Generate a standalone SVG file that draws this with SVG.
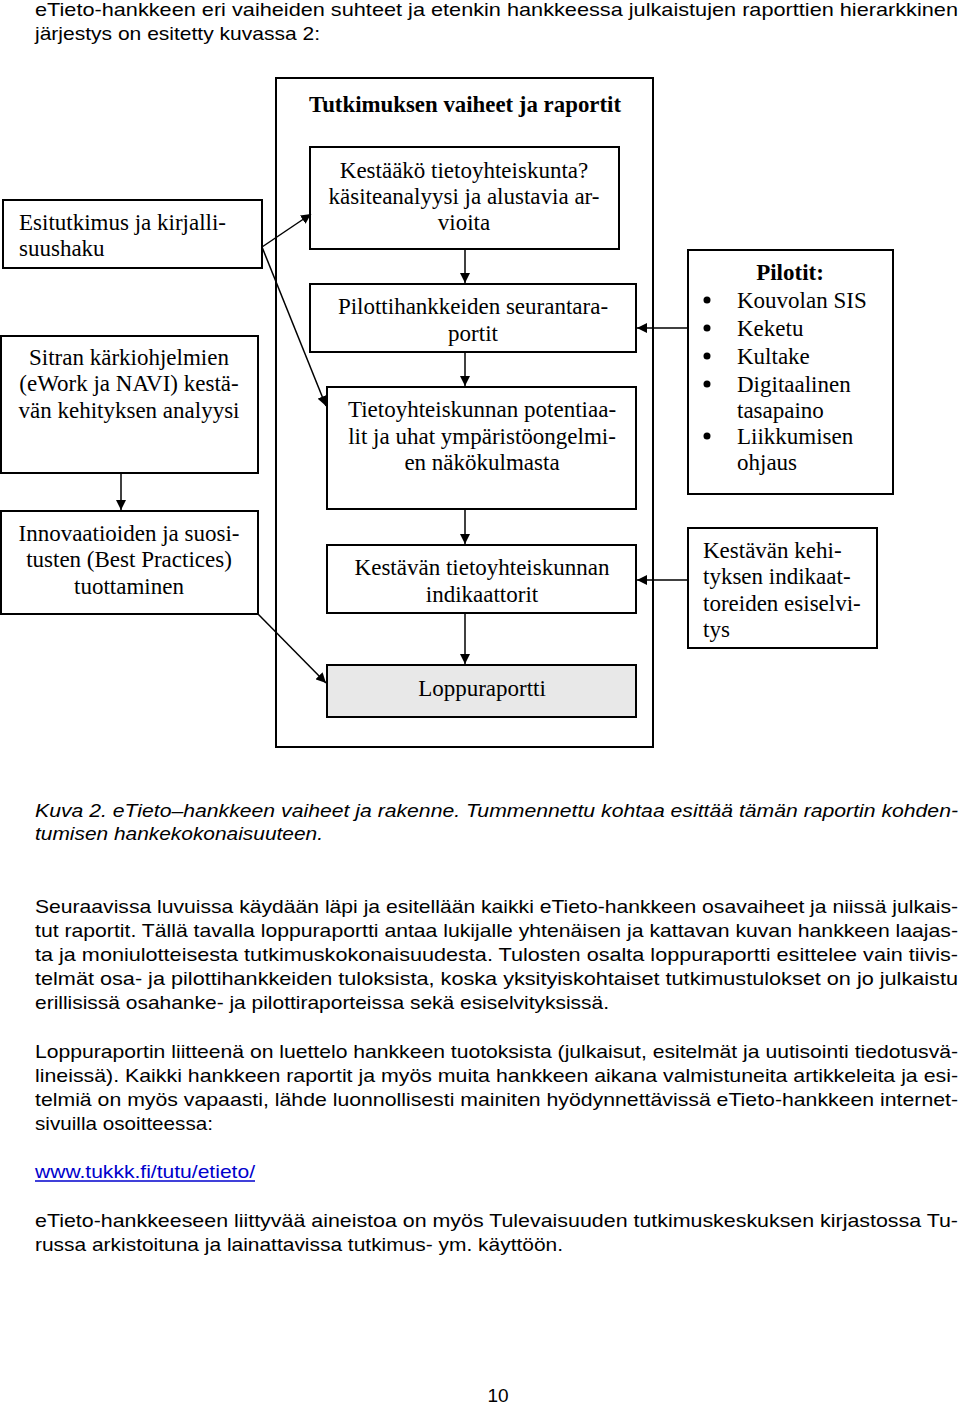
<svg xmlns="http://www.w3.org/2000/svg" width="960" height="1407" viewBox="0 0 960 1407">
<style>
.box{fill:#fff;stroke:#000;stroke-width:2}
.grey{fill:#e8e8e8}
.d{font-family:"Liberation Serif","Times New Roman",serif;font-size:23px;fill:#000}
.c{text-anchor:middle}
.b{font-weight:bold}
.p{font-family:"Liberation Sans",Arial,sans-serif;font-size:19px;fill:#000}
.i{font-style:italic}
.con{stroke:#000;stroke-width:1.5;fill:none}
</style>
<defs>
<marker id="ah" viewBox="0 0 10 10" refX="10" refY="5" markerWidth="10" markerHeight="10" markerUnits="userSpaceOnUse" orient="auto">
<path d="M0,0 L10,5 L0,10 z" fill="#000"/>
</marker>
</defs>
<g id="intro">
<text class="p" x="35" y="16" textLength="923" lengthAdjust="spacingAndGlyphs">eTieto-hankkeen eri vaiheiden suhteet ja etenkin hankkeessa julkaistujen raporttien hierarkkinen</text>
<text class="p" x="35" y="40" textLength="285" lengthAdjust="spacingAndGlyphs">järjestys on esitetty kuvassa 2:</text>
</g>
<g id="frame">
<rect class="box" x="276" y="78" width="377" height="669"/>
<text class="d c b" x="465" y="112" textLength="312" lengthAdjust="spacingAndGlyphs">Tutkimuksen vaiheet ja raportit</text>
</g>
<g id="n-kestaako">
<rect class="box" x="310" y="147" width="309" height="102"/>
<text class="d c" x="464" y="178">Kestääkö tietoyhteiskunta?</text>
<text class="d c" x="464" y="204">käsiteanalyysi ja alustavia ar-</text>
<text class="d c" x="464" y="230">vioita</text>
</g>
<g id="n-pilotti">
<rect class="box" x="310" y="284" width="326" height="68"/>
<text class="d c" x="473" y="314">Pilottihankkeiden seurantara-</text>
<text class="d c" x="473" y="341">portit</text>
</g>
<g id="n-tietoyht">
<rect class="box" x="327" y="387" width="309" height="122"/>
<text class="d c" x="482" y="417">Tietoyhteiskunnan potentiaa-</text>
<text class="d c" x="482" y="444">lit ja uhat ympäristöongelmi-</text>
<text class="d c" x="482" y="470">en näkökulmasta</text>
</g>
<g id="n-indik">
<rect class="box" x="327" y="545" width="309" height="68"/>
<text class="d c" x="482" y="575">Kestävän tietoyhteiskunnan</text>
<text class="d c" x="482" y="602">indikaattorit</text>
</g>
<g id="n-loppu">
<rect class="box grey" x="327" y="665" width="309" height="52"/>
<text class="d c" x="482" y="696">Loppuraportti</text>
</g>
<g id="n-esitutkimus">
<rect class="box" x="3" y="200" width="259" height="68"/>
<text class="d" x="19" y="230">Esitutkimus ja kirjalli-</text>
<text class="d" x="19" y="256">suushaku</text>
</g>
<g id="n-sitra">
<rect class="box" x="1" y="336" width="257" height="137"/>
<text class="d c" x="129" y="365">Sitran kärkiohjelmien</text>
<text class="d c" x="129" y="391">(eWork ja NAVI) kestä-</text>
<text class="d c" x="129" y="418">vän kehityksen analyysi</text>
</g>
<g id="n-innovaatio">
<rect class="box" x="1" y="511" width="257" height="103"/>
<text class="d c" x="129" y="541">Innovaatioiden ja suosi-</text>
<text class="d c" x="129" y="567">tusten (Best Practices)</text>
<text class="d c" x="129" y="594">tuottaminen</text>
</g>
<g id="n-pilotit">
<rect class="box" x="688" y="250" width="205" height="244"/>
<text class="d c b" x="790" y="280">Pilotit:</text>
<circle cx="707" cy="300" r="3.5"/>
<circle cx="707" cy="328" r="3.5"/>
<circle cx="707" cy="356" r="3.5"/>
<circle cx="707" cy="384" r="3.5"/>
<circle cx="707" cy="436" r="3.5"/>
<text class="d" x="737" y="308">Kouvolan SIS</text>
<text class="d" x="737" y="336">Keketu</text>
<text class="d" x="737" y="364">Kultake</text>
<text class="d" x="737" y="392">Digitaalinen</text>
<text class="d" x="737" y="418">tasapaino</text>
<text class="d" x="737" y="444">Liikkumisen</text>
<text class="d" x="737" y="470">ohjaus</text>
</g>
<g id="n-kehitys">
<rect class="box" x="688" y="528" width="189" height="120"/>
<text class="d" x="703" y="558">Kestävän kehi-</text>
<text class="d" x="703" y="584">tyksen indikaat-</text>
<text class="d" x="703" y="611">toreiden esiselvi-</text>
<text class="d" x="703" y="637">tys</text>
</g>
<g id="connectors">
<line class="con" x1="262" y1="247" x2="311" y2="214" marker-end="url(#ah)"/>
<line class="con" x1="262" y1="247" x2="326" y2="406" marker-end="url(#ah)"/>
<line class="con" x1="121" y1="473" x2="121" y2="510" marker-end="url(#ah)"/>
<line class="con" x1="258" y1="614" x2="326" y2="683" marker-end="url(#ah)"/>
<line class="con" x1="465" y1="249" x2="465" y2="283" marker-end="url(#ah)"/>
<line class="con" x1="465" y1="352" x2="465" y2="386" marker-end="url(#ah)"/>
<line class="con" x1="465" y1="509" x2="465" y2="544" marker-end="url(#ah)"/>
<line class="con" x1="465" y1="613" x2="465" y2="664" marker-end="url(#ah)"/>
<line class="con" x1="688" y1="328" x2="637" y2="328" marker-end="url(#ah)"/>
<line class="con" x1="688" y1="580" x2="637" y2="580" marker-end="url(#ah)"/>
</g>
<g id="caption">
<text class="p i" x="35" y="817" textLength="923" lengthAdjust="spacingAndGlyphs">Kuva 2. eTieto–hankkeen vaiheet ja rakenne. Tummennettu kohtaa esittää tämän raportin kohden-</text>
<text class="p i" x="35" y="840" textLength="288" lengthAdjust="spacingAndGlyphs">tumisen hankekokonaisuuteen.</text>
</g>
<g id="body">
<text class="p" x="35" y="913" textLength="923" lengthAdjust="spacingAndGlyphs">Seuraavissa luvuissa käydään läpi ja esitellään kaikki eTieto-hankkeen osavaiheet ja niissä julkais-</text>
<text class="p" x="35" y="937" textLength="923" lengthAdjust="spacingAndGlyphs">tut raportit. Tällä tavalla loppuraportti antaa lukijalle yhtenäisen ja kattavan kuvan hankkeen laajas-</text>
<text class="p" x="35" y="961" textLength="923" lengthAdjust="spacingAndGlyphs">ta ja moniulotteisesta  tutkimuskokonaisuudesta. Tulosten osalta loppuraportti esittelee vain tiivis-</text>
<text class="p" x="35" y="985" textLength="923" lengthAdjust="spacingAndGlyphs">telmät osa- ja pilottihankkeiden tuloksista, koska yksityiskohtaiset tutkimustulokset on jo julkaistu</text>
<text class="p" x="35" y="1009" textLength="574" lengthAdjust="spacingAndGlyphs">erillisissä osahanke- ja pilottiraporteissa sekä esiselvityksissä.</text>
<text class="p" x="35" y="1058" textLength="923" lengthAdjust="spacingAndGlyphs">Loppuraportin liitteenä on luettelo hankkeen tuotoksista (julkaisut, esitelmät ja uutisointi tiedotusvä-</text>
<text class="p" x="35" y="1082" textLength="923" lengthAdjust="spacingAndGlyphs">lineissä). Kaikki hankkeen raportit ja myös muita hankkeen aikana valmistuneita artikkeleita ja esi-</text>
<text class="p" x="35" y="1106" textLength="923" lengthAdjust="spacingAndGlyphs">telmiä on myös vapaasti, lähde luonnollisesti mainiten hyödynnettävissä eTieto-hankkeen internet-</text>
<text class="p" x="35" y="1130" textLength="178" lengthAdjust="spacingAndGlyphs">sivuilla osoitteessa:</text>
<text class="p" x="35" y="1178" textLength="220" lengthAdjust="spacingAndGlyphs" style="fill:#0000cc">www.tukkk.fi/tutu/etieto/</text>
<line x1="35" y1="1181" x2="255" y2="1181" stroke="#0000cc" stroke-width="1.3"/>
<text class="p" x="35" y="1227" textLength="923" lengthAdjust="spacingAndGlyphs">eTieto-hankkeeseen liittyvää aineistoa on myös Tulevaisuuden tutkimuskeskuksen kirjastossa Tu-</text>
<text class="p" x="35" y="1251" textLength="528" lengthAdjust="spacingAndGlyphs">russa arkistoituna ja lainattavissa tutkimus- ym. käyttöön.</text>
<text class="p c" x="498" y="1402">10</text>
</g>
</svg>
